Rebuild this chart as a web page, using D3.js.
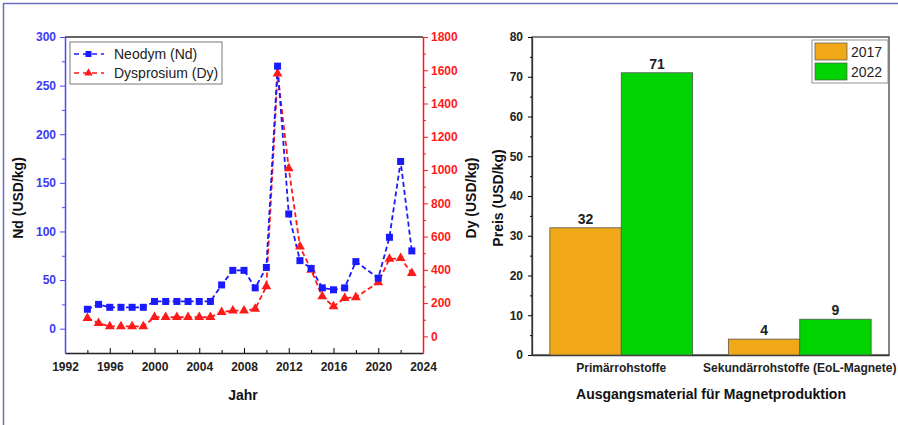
<!DOCTYPE html>
<html>
<head>
<meta charset="utf-8">
<script src="https://cdn.jsdelivr.net/npm/d3@7"></script>
<style>
  html, body { margin: 0; padding: 0; background: #fff; }
  svg { display: block; font-family: Arial, "Liberation Sans", sans-serif; }
  .tick text { font-weight: bold; font-size: 12px; }
  .title { font-weight: bold; font-size: 14px; fill: #111; }
</style>
</head>
<body>
<div id="chart"></div>
<script>
// Left chart: rare earth prices per year
const years   = [1994,1995,1996,1997,1998,1999,2000,2001,2002,2003,2004,2005,2006,2007,2008,2009,2010,2011,2012,2013,2014,2015,2016,2017,2018,2020,2021,2022,2023];
const ndPrice = [20,25,22,22,22,22,28,28,28,28,28,28,45,60,60,42,63,270,118,70,62,42,40,42,69,52,94,172,80];
const dyPrice = [110,80,60,60,60,60,115,115,115,115,115,115,145,155,155,165,300,1580,1010,540,400,240,180,230,235,325,465,470,380];
const xTicks  = [1992,1996,2000,2004,2008,2012,2016,2020,2024];

// Right chart: magnet raw material prices
const materials = ["Primärrohstoffe", "Sekundärrohstoffe (EoL-Magnete)"];
const barYears  = ["2017", "2022"];
const price2017 = [32, 4];
const price2022 = [71, 9];

const W = 898, H = 425;
const svg = d3.select("#chart").append("svg").attr("width", W).attr("height", H);

// outer frame (top + left only visible)
svg.append("line").attr("x1",3).attr("x2",W).attr("y1",3.5).attr("y2",3.5).attr("stroke","#6e6ec4").attr("stroke-width",1.5);
svg.append("line").attr("x1",3.5).attr("x2",3.5).attr("y1",3).attr("y2",H).attr("stroke","#6e6ec4").attr("stroke-width",1.5);

// ---------- left chart ----------
const L = { left: 65, right: 423, top: 37, bottom: 353 };
const BLUE = "#1a1aff", RED = "#ff1a1a";
const x  = d3.scaleLinear().domain([1992, 2024]).range([L.left, L.right]);
const yN = d3.scaleLinear().domain([-25, 300]).range([L.bottom, L.top]);
const yD = d3.scaleLinear().domain([-100, 1800]).range([L.bottom, L.top]);

const lg = svg.append("g");

// top frame line
lg.append("line").attr("x1",L.left).attr("x2",L.right).attr("y1",L.top).attr("y2",L.top)
  .attr("stroke","#333").attr("stroke-width",1.3);

// x axis (ticks inward)
const xAx = lg.append("g").attr("transform",`translate(0,${L.bottom})`)
  .call(d3.axisBottom(x).tickValues(xTicks).tickFormat(d3.format("d")).tickSizeInner(-5).tickSizeOuter(0).tickPadding(9));
xAx.select(".domain").attr("stroke","#222").attr("stroke-width",1.3);
xAx.selectAll(".tick text").attr("fill","#222");
lg.append("g").attr("transform",`translate(0,${L.bottom})`)
  .call(d3.axisBottom(x).tickValues(d3.range(1994, 2024, 4)).tickFormat("").tickSizeInner(-3).tickSizeOuter(0))
  .select(".domain").remove();

// left axis
const yNAx = lg.append("g").attr("transform",`translate(${L.left},0)`)
  .call(d3.axisLeft(yN).tickValues(d3.range(0, 301, 50)).tickSizeInner(5).tickSizeOuter(0).tickPadding(4));
yNAx.select(".domain").attr("stroke","#4a4af0").attr("stroke-width",1.5);
yNAx.selectAll(".tick line").attr("stroke","#4a4af0");
yNAx.selectAll(".tick text").attr("fill","#3a3af5");
lg.append("g").attr("transform",`translate(${L.left},0)`)
  .call(d3.axisLeft(yN).tickValues(d3.range(25, 300, 50)).tickFormat("").tickSizeInner(3).tickSizeOuter(0))
  .call(g => g.select(".domain").remove())
  .selectAll("line").attr("stroke","#4a4af0");

// right axis
const yDAx = lg.append("g").attr("transform",`translate(${L.right},0)`)
  .call(d3.axisRight(yD).tickValues(d3.range(0, 1801, 200)).tickFormat(d3.format("d")).tickSizeInner(5).tickSizeOuter(0).tickPadding(3));
yDAx.select(".domain").attr("stroke",RED).attr("stroke-width",1.5);
yDAx.selectAll(".tick line").attr("stroke",RED);
yDAx.selectAll(".tick text").attr("fill",RED);
lg.append("g").attr("transform",`translate(${L.right},0)`)
  .call(d3.axisRight(yD).tickValues(d3.range(100, 1800, 200)).tickFormat("").tickSizeInner(3).tickSizeOuter(0))
  .call(g => g.select(".domain").remove())
  .selectAll("line").attr("stroke",RED);

// axis titles
lg.append("text").attr("class","title").attr("x",(L.left+L.right)/2 - 1).attr("y",400)
  .attr("text-anchor","middle").text("Jahr");
lg.append("text").attr("class","title").attr("transform",`translate(23,${(L.top+L.bottom)/2 + 3}) rotate(-90)`)
  .attr("text-anchor","middle").text("Nd (USD/kg)");
lg.append("text").attr("class","title").attr("transform",`translate(476,${(L.top+L.bottom)/2 + 3}) rotate(-90)`)
  .attr("text-anchor","middle").text("Dy (USD/kg)");

const ndData = years.map((yr, i) => ({ yr, v: ndPrice[i] }));
const dyData = years.map((yr, i) => ({ yr, v: dyPrice[i] }));

lg.append("path").datum(dyData)
  .attr("d", d3.line().x(d => x(d.yr)).y(d => yD(d.v)))
  .attr("fill","none").attr("stroke",RED).attr("stroke-width",1.8).attr("stroke-dasharray","5,3");
lg.append("path").datum(ndData)
  .attr("d", d3.line().x(d => x(d.yr)).y(d => yN(d.v)))
  .attr("fill","none").attr("stroke",BLUE).attr("stroke-width",1.8).attr("stroke-dasharray","5,3");

const tri = d3.symbol().type(d3.symbolTriangle).size(42);
lg.selectAll(".dy").data(dyData).join("path").attr("class","dy")
  .attr("transform", d => `translate(${x(d.yr)},${yD(d.v)})`)
  .attr("d", tri).attr("fill",RED);
lg.selectAll(".nd").data(ndData).join("rect").attr("class","nd")
  .attr("x", d => x(d.yr) - 3.5).attr("y", d => yN(d.v) - 3.5)
  .attr("width",7).attr("height",7).attr("fill",BLUE);

// legend
const leg = lg.append("g").attr("transform","translate(70,42)");
leg.append("rect").attr("width",152).attr("height",42).attr("fill","#fff").attr("stroke","#555").attr("stroke-width",0.8);
[["Neodym (Nd)", BLUE, "sq"], ["Dysprosium (Dy)", RED, "tri"]].forEach(([name, c, m], i) => {
  const row = leg.append("g").attr("transform",`translate(0,${12 + i*19})`);
  row.append("line").attr("x1",4).attr("x2",34).attr("stroke",c).attr("stroke-width",1.6).attr("stroke-dasharray","5,4");
  if (m === "sq") row.append("rect").attr("x",15.5).attr("y",-3).attr("width",6).attr("height",6).attr("fill",c);
  else row.append("path").attr("transform","translate(18.5,0)").attr("d", d3.symbol().type(d3.symbolTriangle).size(30)).attr("fill",c);
  row.append("text").attr("x",44).attr("y",5).attr("font-size","14px").attr("fill","#222").text(name);
});

// ---------- right chart ----------
const R = { left: 532, right: 889, top: 37, bottom: 355 };
const ORANGE = "#f0a818", GREEN = "#00d400";
const xb = d3.scaleBand().domain(materials).range([R.left, R.right]).paddingInner(0.2).paddingOuter(0.1);
const xs = d3.scaleBand().domain(barYears).range([0, xb.bandwidth()]);
const yb = d3.scaleLinear().domain([0, 80]).range([R.bottom, R.top]);

const rg = svg.append("g");
rg.append("rect").attr("x",R.left).attr("y",R.top).attr("width",R.right-R.left).attr("height",R.bottom-R.top)
  .attr("fill","none").attr("stroke","#444").attr("stroke-width",1.3);

const ybAx = rg.append("g").attr("transform",`translate(${R.left},0)`)
  .call(d3.axisLeft(yb).tickValues(d3.range(0, 81, 10)).tickSizeInner(4).tickSizeOuter(0).tickPadding(5));
ybAx.select(".domain").attr("stroke","#333").attr("stroke-width",1.3);
ybAx.selectAll(".tick text").attr("fill","#222");
rg.append("g").attr("transform",`translate(${R.left},0)`)
  .call(d3.axisLeft(yb).tickValues(d3.range(5, 80, 10)).tickFormat("").tickSizeInner(2).tickSizeOuter(0))
  .select(".domain").remove();

const xbAx = rg.append("g").attr("transform",`translate(0,${R.bottom})`)
  .call(d3.axisBottom(xb).tickSize(0).tickPadding(8));
xbAx.select(".domain").attr("stroke","#333").attr("stroke-width",1.3);
xbAx.selectAll(".tick text").attr("fill","#222").attr("font-size","11.5px");

const barData = [];
materials.forEach((m, i) => {
  barData.push({ m, yr: "2017", v: price2017[i], c: ORANGE });
  barData.push({ m, yr: "2022", v: price2022[i], c: GREEN });
});
rg.selectAll(".bar").data(barData).join("rect").attr("class","bar")
  .attr("x", d => xb(d.m) + xs(d.yr)).attr("width", xs.bandwidth())
  .attr("y", d => yb(d.v)).attr("height", d => yb(0) - yb(d.v))
  .attr("fill", d => d.c).attr("stroke","#555").attr("stroke-width",0.8);
rg.selectAll(".val").data(barData).join("text").attr("class","val")
  .attr("x", d => xb(d.m) + xs(d.yr) + xs.bandwidth()/2).attr("y", d => yb(d.v) - 4)
  .attr("text-anchor","middle").attr("font-size","14px").attr("font-weight","bold").attr("fill","#222")
  .text(d => d.v);

rg.append("text").attr("class","title").attr("x",711).attr("y",399).attr("text-anchor","middle")
  .text("Ausgangsmaterial für Magnetproduktion");
rg.append("text").attr("class","title").attr("transform",`translate(503,${(R.top+R.bottom)/2 + 2}) rotate(-90)`)
  .attr("text-anchor","middle").text("Preis (USD/kg)");

const bl = rg.append("g").attr("transform","translate(812,40)");
bl.append("rect").attr("width",76).attr("height",43).attr("fill","#fff").attr("stroke","#777").attr("stroke-width",0.8);
[["2017", ORANGE], ["2022", GREEN]].forEach(([t, c], i) => {
  bl.append("rect").attr("x",3).attr("y",3 + i*20).attr("width",32).attr("height",17).attr("fill",c).attr("stroke","#555").attr("stroke-width",0.7);
  bl.append("text").attr("x",39).attr("y",17 + i*20).attr("font-size","14px").attr("fill","#222").text(t);
});
</script>
</body>
</html>
